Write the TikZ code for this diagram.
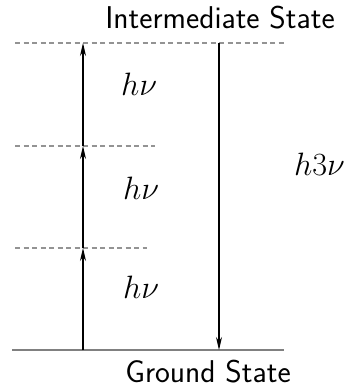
\documentclass[tikz,border=0pt]{standalone}
\usetikzlibrary{arrows.meta}
\newcommand{\bigmath}[1]{\scalebox{1.3}{$#1$}}
\begin{document}
\begin{tikzpicture}[x=1pt,y=-1pt,
  level/.style={draw=gray!85, line width=1.2pt, dash pattern=on 5pt off 3.5pt},
  ground/.style={draw=gray, line width=2.2pt},
  photon/.style={draw=black, line width=1.1pt, -{Stealth[length=13pt,width=6pt]}},
  lbl/.style={font=\fontsize{24.88}{30}\selectfont, inner sep=0pt},
  statelbl/.style={font=\fontsize{31.5}{36}\selectfont\sffamily, inner sep=0pt}]
\useasboundingbox (0,0) rectangle (345,391);
% levels
\coordinate (g0) at (12,350);
\coordinate (g1) at (284,350);
\coordinate (l1a) at (15,248);
\coordinate (l1b) at (147,248);
\coordinate (l2a) at (15,146);
\coordinate (l2b) at (155,146);
\coordinate (l3a) at (15,43);
\coordinate (l3b) at (284,43);
\draw[ground] (g0) -- (g1);
\draw[level] (l1a) -- (l1b);
\draw[level] (l2a) -- (l2b);
\draw[level] (l3a) -- (l3b);
% arrow points
\coordinate (a0) at (83,350);
\coordinate (a1) at (83,248);
\coordinate (a2) at (83,146);
\coordinate (a3) at (83,43);
\coordinate (d0) at (219,43);
\coordinate (d1) at (219,350);
\draw[photon] (a0) -- (a1);
\draw[photon] (a1) -- (a2);
\draw[photon] (a2) -- (a3);
\draw[photon] (d0) -- (d1);
% labels
\node[lbl, anchor=base] (e3) at (139,95) {\bigmath{h\nu}};
\node[lbl, anchor=base] (e2) at (141,199) {\bigmath{h\nu}};
\node[lbl, anchor=base] (e1) at (141,298) {\bigmath{h\nu}};
\node[lbl, anchor=base east] (e4) at (345,175) {\bigmath{h3\nu}};
\node[statelbl, anchor=base] (is) at (220,28) {Intermediate State};
\node[statelbl, anchor=base] (gs) at (208,382) {Ground State};
\end{tikzpicture}
\end{document}
